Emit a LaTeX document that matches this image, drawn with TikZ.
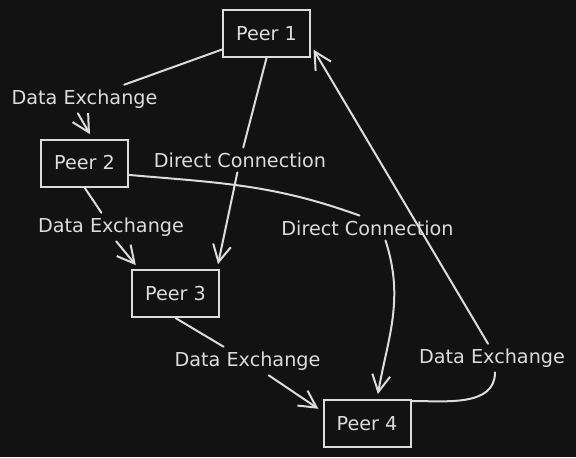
\documentclass[tikz,border=0pt]{standalone}
\usepackage{fontspec}
\setmainfont{DejaVu Sans}
\usepackage{xcolor}
\usetikzlibrary{arrows.meta}
\definecolor{board}{HTML}{121212}
\definecolor{chalk}{HTML}{DCDCDC}

\begin{document}
\begin{tikzpicture}
			[x=0.5pt, y=0.5pt, line width=1pt, color=chalk,
			font=\fontsize{9.6}{11}\selectfont,
			peer/.style={draw, minimum width=43.5pt, minimum height=23.5pt, inner sep=0pt},
			tag/.style={inner sep=2pt},
			link/.style={line cap=round},
			push/.style={link, -{Straight Barb[length=8.5pt, width=9pt]}, shorten >=2.5pt}]
			\fill[board] (0,0) rectangle (576,457);
			\useasboundingbox (0,0) rectangle (576,457);
			\node[peer] (p1) at (266.5,423.5) {Peer 1};
			\node[peer] (p2) at (84.5,294) {Peer 2};
			\node[peer] (p3) at (175.5,163.5) {Peer 3};
			\node[peer] (p4) at (367,33.5) {Peer 4};
			\node[tag] (dx12) at (84.5,358) {Data Exchange};
			\node[tag] (dc13) at (240,297) {Direct Connection};
			\node[tag] (dx23) at (111,230) {Data Exchange};
			\node[tag] (dc24) at (367.5,229) {Direct Connection};
			\node[tag] (dx34) at (247.5,96) {Data Exchange};
			\node[tag] (dx41) at (492,99) {Data Exchange};
			\draw[link] (p1) -- (dx12);
			\draw[push] (dx12.-115) -- (p2.72);
			\draw[link] (p1.south) -- (dc13);
			\draw[push] (dc13) -- ([xshift=-1.5pt]p3.north east);
			\draw[link] (p2.-15) to[out=-5, in=160] ([xshift=-4pt]dc24.north);
			\draw[push] ([xshift=9pt]dc24.south) to[out=-72, in=80] ([xshift=5pt]p4.north);
			\draw[link] (p2.south) -- (dx23);
			\draw[push] (dx23.-70) -- ([xshift=4pt]p3.north west);
			\draw[link] (p3.south) -- (dx34);
			\draw[push] (dx34) -- (p4.165);
			\draw[link] ([yshift=-1pt]p4.north east) to[out=0, in=-90] ([xshift=1.5pt]dx41.south);
			\draw[push] ([xshift=-2pt]dx41.north) -- (p1.-15);
		\end{tikzpicture}
\end{document}
